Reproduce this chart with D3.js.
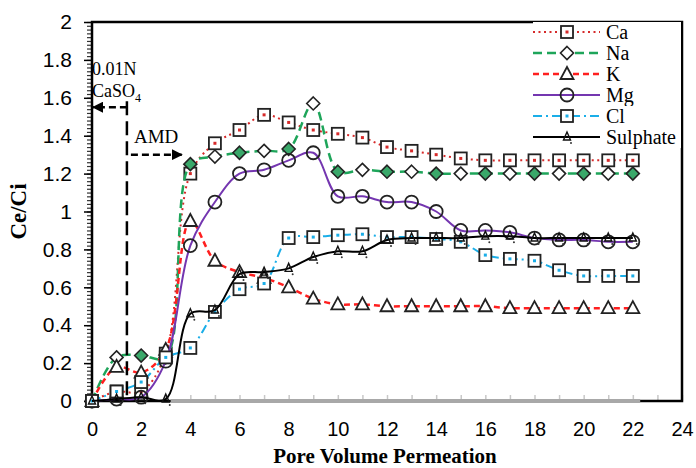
<!DOCTYPE html>
<html>
<head>
<meta charset="utf-8">
<script src="https://cdn.jsdelivr.net/npm/d3@7"></script>
<style>
  body { margin: 0; background: #fff; }
  svg { font-family: "Liberation Serif", "Times New Roman", serif; }
  .tick text { font-size: 21px; fill: #000; }
  .axis-x .tick text { font-size: 20px; }
</style>
</head>
<body>
<div class="chart"></div>
<script>
"use strict";

// Pore volumes at which each sample was taken
const poreVolumes = [0, 1, 2, 3, 4, 5, 6, 7, 8, 9, 10, 11, 12, 13, 14, 15, 16, 17, 18, 19, 20, 21, 22];

// Ce/Ci for every ion
const caValues = [0, 0.05, 0.05, 0.25, 1.2, 1.36, 1.43, 1.51, 1.47, 1.43, 1.41, 1.39, 1.34, 1.32, 1.3, 1.28, 1.27, 1.27, 1.27, 1.27, 1.27, 1.27, 1.27];
const naValues = [0, 0.23, 0.24, 0.23, 1.25, 1.29, 1.31, 1.32, 1.33, 1.57, 1.21, 1.22, 1.21, 1.21, 1.2, 1.2, 1.2, 1.2, 1.2, 1.2, 1.2, 1.2, 1.2];
const kValues = [0, 0.18, 0.15, 0.27, 0.95, 0.74, 0.68, 0.65, 0.6, 0.54, 0.51, 0.51, 0.5, 0.5, 0.5, 0.5, 0.5, 0.49, 0.49, 0.49, 0.49, 0.49, 0.49];
const mgValues = [0, 0.01, 0.02, 0.21, 0.82, 1.05, 1.2, 1.22, 1.27, 1.31, 1.08, 1.08, 1.05, 1.05, 1.0, 0.9, 0.9, 0.89, 0.86, 0.85, 0.85, 0.84, 0.84];
const clValues = [0, 0.05, 0.1, 0.23, 0.28, 0.47, 0.59, 0.62, 0.86, 0.865, 0.875, 0.88, 0.865, 0.865, 0.855, 0.84, 0.77, 0.75, 0.74, 0.69, 0.66, 0.66, 0.66];
const sulphateValues = [0, 0.01, 0.02, 0.01, 0.46, 0.48, 0.67, 0.68, 0.7, 0.76, 0.79, 0.79, 0.85, 0.86, 0.86, 0.86, 0.87, 0.87, 0.86, 0.86, 0.86, 0.86, 0.86];

const seriesNames = ["Ca", "Na", "K", "Mg", "Cl", "Sulphate"];

// Grey baseline drawn along the x axis in the original
const baselineX = [3.2, 22.3];

// Tick labels
const xTickValues = [0, 2, 4, 6, 8, 10, 12, 14, 16, 18, 20, 22, 24];
const yTickValues = [0, 0.2, 0.4, 0.6, 0.8, 1, 1.2, 1.4, 1.6, 1.8, 2];

// Annotation positions (in data units)
const feedSwitchX = 1.42;
const caso4ArrowY = 1.55;
const amdArrowY = 1.3;
const amdArrowEndX = 3.65;

const seriesValues = [caValues, naValues, kValues, mgValues, clValues, sulphateValues];

const styles = {
  Ca:       { color: "#d62a2a", dash: "2,3.5", width: 2, marker: "square", dot: "#d62a2a" },
  Na:       { color: "#1ea55a", dash: "9,5", width: 2.5, marker: "diamond" },
  K:        { color: "#ff1f1f", dash: "6,4", width: 2.5, marker: "triangle" },
  Mg:       { color: "#7436b0", dash: null, width: 2, marker: "circle" },
  Cl:       { color: "#1aaee8", dash: "9,4,2,4", width: 2, marker: "square", dot: "#1aaee8" },
  Sulphate: { color: "#000000", dash: null, width: 2, marker: "smallTriangle" }
};

const width = 696;
const height = 468;

const svg = d3.select(".chart")
  .append("svg")
    .attr("width", width)
    .attr("height", height);

const xScale = d3.scaleLinear().domain([0, 24]).range([92, 682]);
const yScale = d3.scaleLinear().domain([0, 2]).range([401, 22]);

const data = seriesNames.map((name, i) => ({
  name,
  points: poreVolumes.map((pv, j) => ({ x: pv, y: seriesValues[i][j] }))
}));

// Axes
const yMinor = d3.axisLeft(yScale)
  .tickValues(d3.range(0, 2.001, 0.02))
  .tickFormat("")
  .tickSize(5)
  .tickSizeOuter(0);

svg.append("g")
    .attr("transform", `translate(${xScale(0)}, 0)`)
    .call(yMinor)
    .call(g => g.select(".domain").remove())
    .call(g => g.selectAll(".tick line").attr("stroke", "#333").attr("stroke-width", 1.2));

const yAxis = d3.axisLeft(yScale)
  .tickValues(yTickValues)
  .tickFormat(d => d)
  .tickSize(8)
  .tickPadding(12)
  .tickSizeOuter(0);

svg.append("g")
    .attr("transform", `translate(${xScale(0)}, 0)`)
    .call(yAxis)
    .call(g => g.select(".domain").remove())
    .call(g => g.selectAll(".tick line").attr("stroke", "#000").attr("stroke-width", 1.5));

const xMinor = d3.axisBottom(xScale)
  .tickValues(d3.range(0, 25, 1))
  .tickFormat("")
  .tickSize(-6)
  .tickSizeOuter(0);

svg.append("g")
    .attr("transform", `translate(0, ${yScale(0)})`)
    .call(xMinor)
    .call(g => g.select(".domain").remove())
    .call(g => g.selectAll(".tick line").attr("stroke", "#c8c8c8").attr("stroke-width", 1.5));

const xAxis = d3.axisBottom(xScale)
  .tickValues(xTickValues)
  .tickSize(0)
  .tickPadding(21)
  .tickSizeOuter(0);

svg.append("g")
    .attr("class", "axis-x")
    .attr("transform", `translate(0, ${yScale(0)})`)
    .call(xAxis)
    .call(g => g.select(".domain").remove());

// Plot frame
svg.append("rect")
    .attr("x", xScale(0))
    .attr("y", yScale(2))
    .attr("width", xScale(24) - xScale(0))
    .attr("height", yScale(0) - yScale(2))
    .attr("fill", "none")
    .attr("stroke", "#000")
    .attr("stroke-width", 2.5);

svg.append("line")
    .attr("x1", xScale(baselineX[0]))
    .attr("x2", xScale(baselineX[1]))
    .attr("y1", yScale(0))
    .attr("y2", yScale(0))
    .attr("stroke", "#a8a8a8")
    .attr("stroke-width", 4);

// Axis titles
svg.append("text")
    .attr("transform", `translate(26, ${(yScale(0) + yScale(2)) / 2}) rotate(-90)`)
    .attr("text-anchor", "middle")
    .attr("font-size", 23)
    .attr("font-weight", "bold")
    .text("Ce/Ci");

svg.append("text")
    .attr("x", (xScale(0) + xScale(24)) / 2 - 2)
    .attr("y", 463)
    .attr("text-anchor", "middle")
    .attr("font-size", 21)
    .attr("font-weight", "bold")
    .text("Pore Volume Permeation");

// Lines
const lineGenerator = d3.line()
  .x(d => xScale(d.x))
  .y(d => yScale(d.y))
  .curve(d3.curveCatmullRom.alpha(0.5));

const seriesGroups = svg.selectAll("g.series")
  .data(data)
  .join("g")
    .attr("class", "series");

seriesGroups.append("path")
    .attr("d", d => lineGenerator(d.points))
    .attr("fill", "none")
    .attr("stroke", d => styles[d.name].color)
    .attr("stroke-width", d => styles[d.name].width)
    .attr("stroke-dasharray", d => styles[d.name].dash);

function drawMarker(sel, name, i) {
  const st = styles[name];
  if (st.marker === "square") {
    sel.append("rect")
        .attr("x", -6).attr("y", -6).attr("width", 12).attr("height", 12)
        .attr("fill", "#fff").attr("stroke", "#222").attr("stroke-width", 1.8);
    sel.append("rect")
        .attr("x", -1.5).attr("y", -1.5).attr("width", 3).attr("height", 3)
        .attr("fill", st.dot);
  } else if (st.marker === "diamond") {
    sel.append("path")
        .attr("d", "M0,-6.5L6.5,0L0,6.5L-6.5,0Z")
        .attr("fill", i % 2 === 0 ? "#3aa86a" : "#fff")
        .attr("stroke", "#222").attr("stroke-width", 1.6);
  } else if (st.marker === "triangle") {
    sel.append("path")
        .attr("d", "M0,-7L6.5,5L-6.5,5Z")
        .attr("fill", "#fff").attr("stroke", "#222").attr("stroke-width", 1.8);
  } else if (st.marker === "circle") {
    sel.append("circle")
        .attr("r", 6.5)
        .attr("fill", "none").attr("stroke", "#222").attr("stroke-width", 1.8);
  } else if (st.marker === "smallTriangle") {
    sel.append("path")
        .attr("d", "M0,-5L3.5,3L-3.5,3Z")
        .attr("fill", "none").attr("stroke", "#111").attr("stroke-width", 1.4);
    sel.append("circle").attr("cx", 4).attr("cy", 6).attr("r", 1).attr("fill", "#333");
  }
}

seriesGroups.each(function(d) {
  d3.select(this).selectAll("g.marker")
    .data(d.points)
    .join("g")
      .attr("class", "marker")
      .attr("transform", p => `translate(${xScale(p.x)}, ${yScale(p.y)})`)
      .each(function(p, i) { drawMarker(d3.select(this), d.name, i); });
});

// Legend
const legend = svg.append("g")
    .attr("transform", "translate(533, 32)");

const legendRows = legend.selectAll("g")
  .data(seriesNames)
  .join("g")
    .attr("transform", (d, i) => `translate(0, ${i * 21})`);

legendRows.append("rect")
    .attr("x", 0).attr("y", -10).attr("width", 148).attr("height", 21)
    .attr("fill", "#fff");

legendRows.append("line")
    .attr("x1", 0).attr("x2", 67)
    .attr("stroke", d => styles[d].color)
    .attr("stroke-width", d => styles[d].width)
    .attr("stroke-dasharray", d => styles[d].dash);

legendRows.append("g")
    .attr("transform", "translate(34, 0)")
    .each(function(d) { drawMarker(d3.select(this), d, 1); });

legendRows.append("text")
    .attr("x", 73)
    .attr("dy", "0.33em")
    .attr("font-size", 20)
    .text(d => d);

// Annotations: feed switch from CaSO4 to AMD
const ann = svg.append("g");

ann.append("defs").append("marker")
    .attr("id", "arrowHead")
    .attr("viewBox", "0 0 10 10")
    .attr("refX", 9).attr("refY", 5)
    .attr("markerWidth", 4.5).attr("markerHeight", 4.5)
    .attr("orient", "auto")
  .append("path")
    .attr("d", "M0,0L10,5L0,10Z")
    .attr("fill", "#000");

ann.append("line")
    .attr("x1", xScale(feedSwitchX)).attr("x2", xScale(feedSwitchX))
    .attr("y1", yScale(caso4ArrowY) - 6).attr("y2", yScale(0))
    .attr("stroke", "#000").attr("stroke-width", 2.5)
    .attr("stroke-dasharray", "14,6");

ann.append("line")
    .attr("x1", xScale(feedSwitchX)).attr("x2", xScale(0) + 1)
    .attr("y1", yScale(caso4ArrowY)).attr("y2", yScale(caso4ArrowY))
    .attr("stroke", "#000").attr("stroke-width", 2.5)
    .attr("stroke-dasharray", "7,4")
    .attr("marker-end", "url(#arrowHead)");

ann.append("line")
    .attr("x1", xScale(feedSwitchX) + 4).attr("x2", xScale(amdArrowEndX))
    .attr("y1", yScale(amdArrowY)).attr("y2", yScale(amdArrowY))
    .attr("stroke", "#000").attr("stroke-width", 2.5)
    .attr("stroke-dasharray", "7,4")
    .attr("marker-end", "url(#arrowHead)");

ann.append("text")
    .attr("x", xScale(0))
    .attr("y", 75)
    .attr("font-size", 18)
    .text("0.01N");

const caso4 = ann.append("text")
    .attr("x", xScale(0))
    .attr("y", 97)
    .attr("font-size", 18)
    .text("CaSO");
caso4.append("tspan")
    .attr("font-size", 12)
    .attr("dy", 5)
    .text("4");

ann.append("text")
    .attr("x", xScale(feedSwitchX) + 7)
    .attr("y", 143)
    .attr("font-size", 19)
    .text("AMD");
</script>
</body>
</html>
